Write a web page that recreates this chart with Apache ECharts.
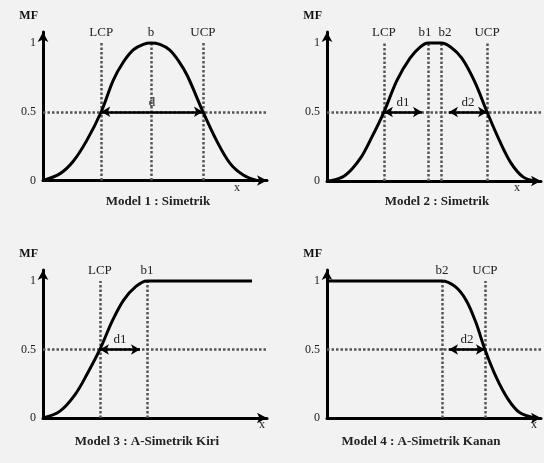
<!DOCTYPE html>
<html>
<head>
<meta charset="utf-8">
<script src="https://cdn.jsdelivr.net/npm/echarts@6/dist/echarts.min.js"></script>
<style>
html,body{margin:0;padding:0;background:#f2f2f2;}
#c{width:544px;height:463px;}
</style>
</head>
<body>
<div id="c"></div>
<script>
// ---- data ----
const tickValues = [0, 0.5, 1];
const titles = ['Model 1 : Simetrik', 'Model 2 : Simetrik', 'Model 3 : A-Simetrik Kiri', 'Model 4 : A-Simetrik Kanan'];

// curves (x in relative units 0..100, y = membership)
const m1X = [0, 7.6, 13.5, 19.5, 26, 31.4, 35.8, 40.3, 44.8, 48.2, 52.2, 56.5, 60.5, 64.5, 71.4, 77.5, 83.5, 89.4, 95.4];
const m1Y = [0, 0.05, 0.14, 0.29, 0.5, 0.73, 0.86, 0.95, 0.99, 1, 0.99, 0.95, 0.87, 0.76, 0.5, 0.29, 0.125, 0.04, 0];

const m2X = [1, 8.4, 15.4, 21, 26.6, 32.7, 38.8, 43.5, 47.2, 53.3, 57.9, 63, 69, 74.8, 80.4, 86, 91.6, 97.2];
const m2Y = [0, 0.04, 0.16, 0.32, 0.5, 0.73, 0.89, 0.97, 1, 1, 0.97, 0.89, 0.72, 0.5, 0.30, 0.13, 0.03, 0];

const m3X = [0, 7.6, 14.3, 20, 25.4, 31, 36, 41.5, 46.4, 93.3];
const m3Y = [0, 0.05, 0.17, 0.33, 0.5, 0.71, 0.86, 0.96, 1, 1];

const m4X = [0, 53.7, 59.8, 65, 69.5, 73.8, 79, 84.5, 90, 97.2];
const m4Y = [1, 1, 0.96, 0.86, 0.70, 0.5, 0.30, 0.14, 0.04, 0];

// vertical reference lines: [label, x]
const v1 = [['LCP', 26], ['b', 48.2], ['UCP', 71.4]];
const v2 = [['LCP', 26.6], ['b1', 47.2], ['b2', 53.3], ['UCP', 74.8]];
const v3 = [['LCP', 25.4], ['b1', 46.4]];
const v4 = [['b2', 53.7], ['UCP', 73.8]];

// distance arrows at MF = 0.5: [label, from, to]
const a1 = [['d', 26, 71.4]];
const a2 = [['d1', 26.6, 44.4], ['d2', 57, 74.8]];
const a3 = [['d1', 25.4, 43.3]];
const a4 = [['d2', 57, 73.8]];

const halfLevel = 0.5;

// ---- layout ----
const grids = [
  {left: 43, top: 32, width: 224, height: 148.5},
  {left: 327, top: 32, width: 214, height: 149},
  {left: 43, top: 270, width: 224, height: 148},
  {left: 327, top: 270, width: 214, height: 148}
];
const xNameGap = [-33, -27, -8, -10];
const titlePos = [[153, 190], [432, 190], [142, 430], [416, 430]];
const labelOffsets = [[0,0,0],[0,-3,4,0],[0,0],[0,0]];

const serif = 'Liberation Serif';
const curvesX = [m1X, m2X, m3X, m4X];
const curvesY = [m1Y, m2Y, m3Y, m4Y];
const verts = [v1, v2, v3, v4];
const arrows = [a1, a2, a3, a4];

const xAxes = [], yAxes = [], series = [], titleArr = [];
for (let i = 0; i < 4; i++) {
  xAxes.push({
    type: 'value', gridIndex: i, min: 0, max: 100,
    axisLine: {show: true, symbol: ['none', 'arrow'], symbolSize: [8, 10], lineStyle: {color: '#000', width: 3}},
    axisTick: {show: false}, axisLabel: {show: false}, splitLine: {show: false},
    name: 'x', nameLocation: 'end', nameGap: xNameGap[i],
    nameTextStyle: {fontFamily: serif, fontSize: 12, color: '#222', verticalAlign: 'top', padding: [1, 0, 0, 0]}
  });
  yAxes.push({
    type: 'value', gridIndex: i, min: 0, max: 1.08,
    axisLine: {show: true, symbol: ['none', 'arrow'], symbolSize: [8, 10], lineStyle: {color: '#000', width: 3}},
    axisTick: {show: false}, splitLine: {show: false},
    axisLabel: {customValues: tickValues, fontFamily: serif, fontSize: 12, color: '#222', margin: 7},
    name: 'MF', nameLocation: 'end', nameGap: 10,
    nameTextStyle: {fontFamily: serif, fontSize: 12, fontWeight: 'bold', color: '#111', align: 'right', padding: [0, 5, 0, 0]}
  });
  const pts = curvesX[i].map((x, k) => [x, curvesY[i][k]]);
  const vLines = verts[i].map((v, k) => [
    {coord: [v[1], 0], label: {show: true, formatter: v[0], position: 'end', offset: [labelOffsets[i][k] || 0, 0], distance: 4,
      fontFamily: serif, fontSize: 13, color: '#222'}},
    {coord: [v[1], 1]}
  ]);
  const hLine = [{coord: [0, halfLevel]}, {coord: [100, halfLevel]}];
  series.push({
    type: 'line', xAxisIndex: i, yAxisIndex: i, data: [], silent: true,
    markLine: {
      silent: true, symbol: 'none', animation: false,
      lineStyle: {color: '#555', width: 2.5, type: [2.5, 2]},
      label: {show: false},
      data: vLines.concat([hLine])
    }
  });
  series.push({
    type: 'line', xAxisIndex: i, yAxisIndex: i, data: [], silent: true,
    markLine: {
      silent: true, symbol: ['arrow', 'arrow'], symbolSize: [8, 9], animation: false,
      lineStyle: {color: '#000', width: 2.5, type: 'solid'},
      data: arrows[i].map(a => [
        {coord: [a[1], halfLevel], label: {show: true, formatter: a[0], position: 'insideMiddleTop', distance: 3,
          fontFamily: serif, fontSize: 13, color: '#222'}},
        {coord: [a[2], halfLevel]}
      ])
    }
  });
  series.push({
    type: 'line', xAxisIndex: i, yAxisIndex: i, data: pts, smooth: 0.35,
    showSymbol: false, symbol: 'none', silent: true, z: 5,
    lineStyle: {color: '#000', width: 3}
  });
  titleArr.push({
    text: titles[i], left: titlePos[i][0], top: titlePos[i][1], textAlign: 'center',
    textStyle: {fontFamily: serif, fontSize: 13, fontWeight: 'bold', color: '#222'}
  });
}

const chart = echarts.init(document.getElementById('c'), null, {renderer: 'canvas'});
chart.setOption({
  backgroundColor: '#f2f2f2',
  animation: false,
  title: titleArr,
  grid: grids,
  xAxis: xAxes,
  yAxis: yAxes,
  series: series
});
</script>
</body>
</html>
